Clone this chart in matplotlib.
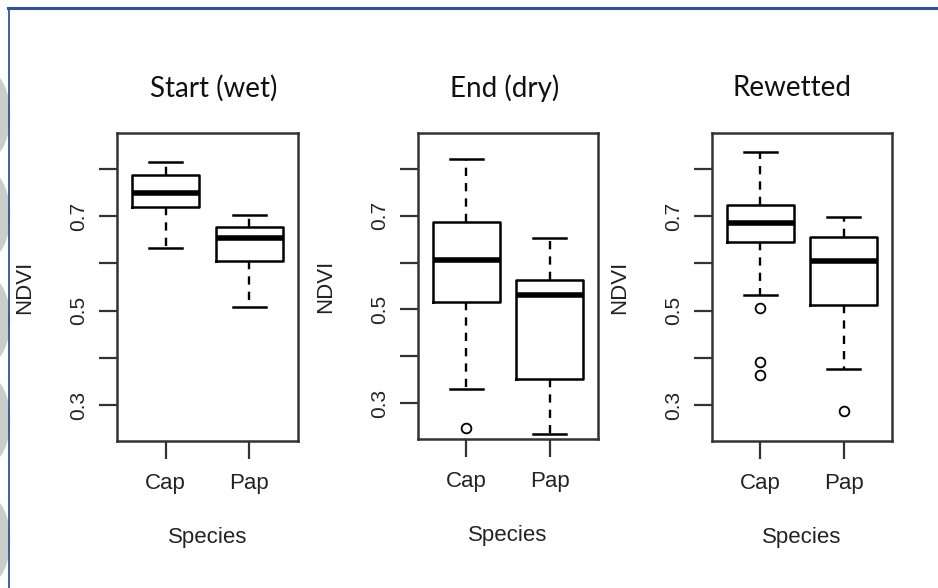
import matplotlib.pyplot as plt
from matplotlib.patches import Ellipse
from matplotlib.lines import Line2D

W, H = 938, 588

species = ['Cap', 'Pap']
titles = ['Start (wet)', 'End (dry)', 'Rewetted']

# whislo, q1, median, q3, whishi for each species
start_cap = [0.632, 0.720, 0.749, 0.788, 0.815]
start_pap = [0.508, 0.605, 0.654, 0.676, 0.702]
end_cap = [0.330, 0.515, 0.606, 0.686, 0.820]
end_pap = [0.235, 0.352, 0.530, 0.563, 0.652]
rewet_cap = [0.534, 0.645, 0.686, 0.723, 0.835]
rewet_pap = [0.377, 0.511, 0.605, 0.655, 0.699]

start_out = [[], []]
end_out = [[0.248], []]
rewet_out = [[0.505, 0.392, 0.364], [0.288]]

stages = [(start_cap, start_pap, start_out),
          (end_cap, end_pap, end_out),
          (rewet_cap, rewet_pap, rewet_out)]

yticks = [0.3, 0.4, 0.5, 0.6, 0.7, 0.8]
ylabels = ['0.3', '', '0.5', '', '0.7', '']

# panel boxes in pixels: left, right, top, bottom
boxes = [(117, 298, 133, 441), (418, 598, 133, 439), (712, 892, 133, 441)]
title_pos = [(214, 88), (505, 88), (792, 88)]

txt = '#222222'
frame = '#333333'
rfont = 'Liberation Sans'

fig = plt.figure(figsize=(W / 100, H / 100), dpi=100)

def stats(v, fl, name):
    return dict(whislo=v[0], q1=v[1], med=v[2], q3=v[3], whishi=v[4], fliers=fl, label=name)

for i, (cap, pap, outs) in enumerate(stages):
    l, r, t, b = boxes[i]
    ax = fig.add_axes([l / W, 1 - b / H, (r - l) / W, (b - t) / H])
    st = [stats(cap, outs[0], 'Cap'), stats(pap, outs[1], 'Pap')]
    ax.bxp(st, positions=[1, 2], widths=0.8, showfliers=True,
           boxprops=dict(color='black', linewidth=1.8),
           medianprops=dict(color='black', linewidth=4, solid_capstyle='butt'),
           whiskerprops=dict(color='black', linewidth=1.7, linestyle=(0, (3.5, 3))),
           capprops=dict(color='black', linewidth=1.8),
           flierprops=dict(marker='o', markersize=7, markerfacecolor='none',
                           markeredgecolor='black', markeredgewidth=1.3))
    ax.set_xlim(0.42, 2.58)
    ax.set_ylim(0.224, 0.876)
    ax.set_yticks(yticks)
    ax.set_yticklabels(ylabels, rotation=90, va='center', fontsize=15,
                       family=rfont, color=txt)
    ax.set_xticks([1, 2])
    ax.set_xticklabels(species, fontsize=16, family=rfont, color=txt)
    ax.tick_params(length=13, width=1.6, color=frame, pad=10)
    ax.tick_params(axis='y', pad=8)
    for s in ax.spines.values():
        s.set_color(frame)
        s.set_linewidth(1.8)
    ax.set_xlabel('Species', fontsize=16, family=rfont, color=txt, labelpad=24)
    ax.set_ylabel('NDVI', fontsize=16, family=rfont, color=txt, labelpad=24)
    tx, ty = title_pos[i]
    fig.text(tx / W, 1 - ty / H, titles[i], ha='center', va='center',
             fontsize=20, family='Lato', color='#111111')

# faint watermark shapes at the left edge
for cy in [115, 215, 320, 420, 540]:
    fig.patches.append(Ellipse((-16 / W, 1 - cy / H), 40 / W, 80 / H,
                               transform=fig.transFigure, fill=False,
                               edgecolor='#cccccc', linewidth=9))

# slide border
fig.lines.append(Line2D([8 / W, 1], [1 - 8 / H, 1 - 8 / H], transform=fig.transFigure,
                        color='#2f5496', linewidth=2.2))
fig.lines.append(Line2D([9 / W, 9 / W], [0, 1 - 8 / H], transform=fig.transFigure,
                        color='#2f5496', linewidth=1.3))

fig.savefig('out.png', dpi=100)
